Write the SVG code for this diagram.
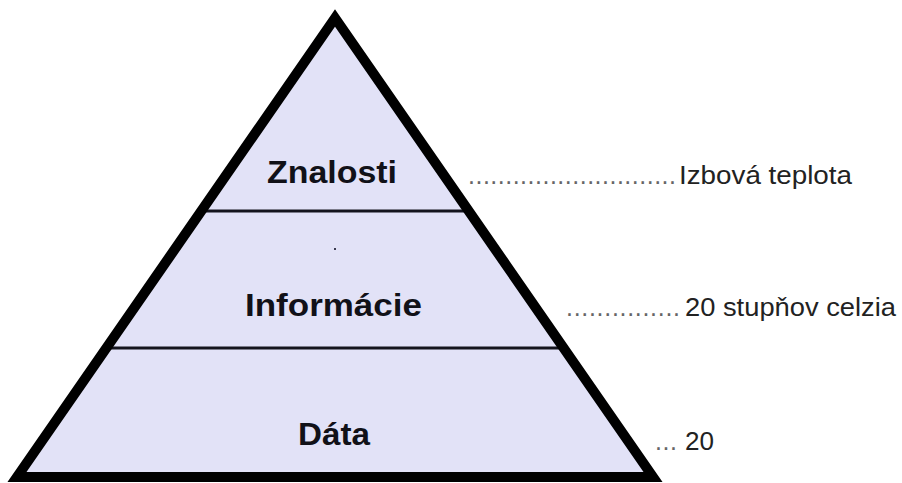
<svg xmlns="http://www.w3.org/2000/svg" width="902" height="483" viewBox="0 0 902 483">
  <style>
    .tier { font-family: "Liberation Sans", Arial, sans-serif; font-weight: bold; font-size: 31px; fill: #111118; }
    .note { font-family: "Liberation Sans", Arial, sans-serif; font-size: 25px; fill: #222222; }
    .dots { font-family: "Liberation Sans", Arial, sans-serif; font-size: 25px; fill: #666666; }
    .divider { stroke: #14141e; stroke-width: 3; }
  </style>
  <rect width="902" height="483" fill="#ffffff"/>

  <!-- pyramid body: fill, dividers, then the outline on top -->
  <g id="pyramid">
    <polygon points="335,18 17,477 653,477" fill="#e2e2f7"/>
    <line class="divider" x1="201" y1="211" x2="469" y2="211"/>
    <line class="divider" x1="106" y1="348" x2="564" y2="348"/>
    <rect x="334" y="248" width="2" height="2" fill="#3a3a50"/>
    <polygon points="335,18 17,477 653,477" fill="none" stroke="#000000" stroke-width="10" stroke-linejoin="miter"/>
  </g>

  <g id="tier-knowledge">
    <text class="tier" x="267" y="183" textLength="130" lengthAdjust="spacingAndGlyphs">Znalosti</text>
  </g>
  <g id="tier-information">
    <text class="tier" x="245" y="316" textLength="177" lengthAdjust="spacingAndGlyphs">Informácie</text>
  </g>
  <g id="tier-data">
    <text class="tier" x="298" y="445" textLength="72" lengthAdjust="spacingAndGlyphs">Dáta</text>
  </g>

  <!-- dotted leaders to the examples -->
  <g id="leaders">
    <text class="dots" x="468" y="184" textLength="208" lengthAdjust="spacing">............................</text>
    <text class="dots" x="566" y="316" textLength="114" lengthAdjust="spacing">...............</text>
    <text class="dots" x="655" y="450" textLength="22" lengthAdjust="spacing">...</text>
  </g>

  <g id="example-knowledge">
    <text class="note" x="679" y="184" textLength="173" lengthAdjust="spacingAndGlyphs">Izbová teplota</text>
  </g>
  <g id="example-information">
    <text class="note" x="685" y="316" textLength="211" lengthAdjust="spacingAndGlyphs">20 stupňov celzia</text>
  </g>
  <g id="example-data">
    <text class="note" x="685" y="450" textLength="29" lengthAdjust="spacingAndGlyphs">20</text>
  </g>
</svg>
